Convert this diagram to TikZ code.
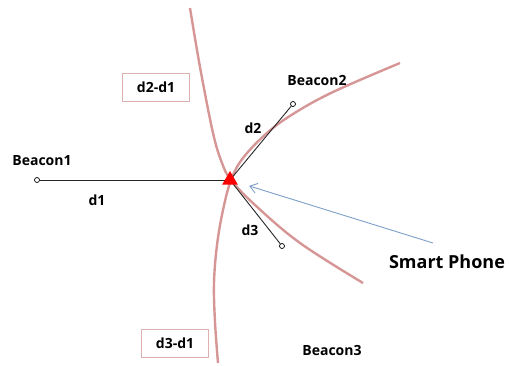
\documentclass[tikz,border=0pt]{standalone}
\usepackage{fontspec}
\setmainfont{Open Sans}
\usetikzlibrary{arrows.meta, positioning, shapes.geometric}
\definecolor{hyprose}{RGB}{214,150,150}
\definecolor{boxrose}{RGB}{222,175,175}
\definecolor{pointerblue}{RGB}{125,160,200}

\begin{document}
\begin{tikzpicture}[x=1pt, y=-1pt,
  beacon/.style={circle, draw, fill=white, inner sep=0pt, minimum size=5pt, line width=0.7pt},
  phone/.style={regular polygon, regular polygon sides=3, fill=red, inner sep=0pt, minimum size=18pt},
  txt/.style={font=\bfseries\fontsize{14}{16}\selectfont, inner sep=1pt},
  diffbox/.style={draw=boxrose, line width=0.8pt, minimum width=67pt, minimum height=28pt,
    font=\bfseries\fontsize{14}{16}\selectfont},
  hyper/.style={hyprose, line width=2.4pt},
  rangeline/.style={line width=0.9pt, black!85},
  pointer/.style={pointerblue, line width=0.9pt, -{Straight Barb[length=7pt, width=10pt]}, shorten >=20pt}
]
\useasboundingbox (0,0) rectangle (509,365);

% hyperbolas
\draw[hyper] plot[smooth, tension=0.6] coordinates
  {(190,8) (200,67) (213,133) (222,163) (231,180) (255,205) (300,243) (363,283)};
\draw[hyper] plot[smooth, tension=0.6] coordinates
  {(400,63) (333,92) (293,114) (267,133) (243,158) (231,180) (223,210) (217,245) (214,283) (215,322) (218,363)};

% phone and beacons
\coordinate (sp) at (230,180);
\node[beacon] (b1) at (37,180) {};
\node[beacon] (b2) at (293,104) {};
\node[beacon] (b3) at (282,246) {};

\draw[rangeline] (b1) -- (sp);
\draw[rangeline] (sp) -- (b2);
\draw[rangeline] (sp) -- (b3);
\node[phone] (tri) at (sp) {};

% labels
\node[txt] (b1lab) at (42,161) {Beacon1};
\node[txt] (b2lab) at (317,80) {Beacon2};
\node[txt] (b3lab) at (332,350) {Beacon3};
\node[txt] (d1) at (97,200) {d1};
\node[txt] (d2) at (253,128) {d2};
\node[txt] (d3) at (250,230) {d3};

\node[diffbox] (d21) at (156,87) {d2-d1};
\node[diffbox] (d31) at (175,343) {d3-d1};

% smart phone pointer
\node[font=\bfseries\fontsize{18}{20}\selectfont, inner sep=1pt] (splab) at (447,262) {Smart Phone};
\coordinate (tail) at (433,243);
\draw[pointer] (tail) -- (sp);
\end{tikzpicture}
\end{document}
